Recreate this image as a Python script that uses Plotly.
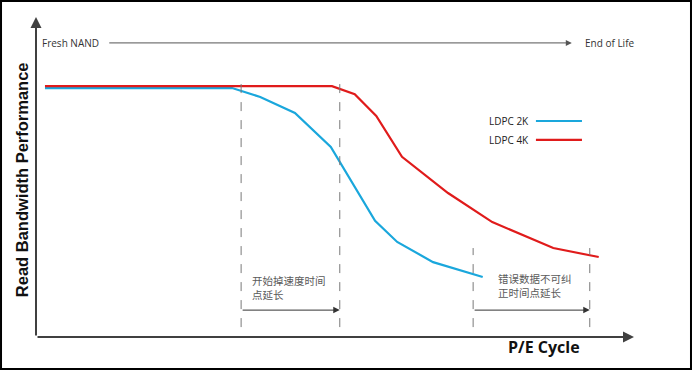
import plotly.graph_objects as go

# P/E cycle (arbitrary units 0-100) and read bandwidth performance (arbitrary 0-100)
ldpc2k_x = [1.5, 32.8, 37.5, 43.3, 49.3, 56.7, 60.4, 66.4, 74.7]
ldpc2k_y = [77.8, 77.8, 75.0, 70.0, 59.4, 36.3, 29.7, 23.4, 18.75]
ldpc4k_x = [1.5, 49.5, 53.3, 56.9, 61.2, 68.9, 76.3, 86.5, 94.1]
ldpc4k_y = [78.4, 78.4, 75.9, 69.1, 56.3, 45.0, 35.9, 27.8, 25.0]

series_names = ["LDPC 2K", "LDPC 4K"]
series_colors = ["#1aa7dc", "#e01b1b"]

# marker positions (P/E cycle) for the dashed guides
guide1 = [34.3, 50.8]
guide2 = [73.1, 92.6]
guide1_top, guide2_top, guide_bottom = 80.9, 27.8, 3.1
span_y = 8.4

label1 = "开始掉速度时间<br>点延长"
label2 = "错误数据不可纠<br>正时间点延长"

fig = go.Figure()
fig.add_trace(go.Scatter(x=ldpc2k_x, y=ldpc2k_y, mode="lines", name=series_names[0],
                         line=dict(color=series_colors[0], width=2.2)))
fig.add_trace(go.Scatter(x=ldpc4k_x, y=ldpc4k_y, mode="lines", name=series_names[1],
                         line=dict(color=series_colors[1], width=2.2)))

shapes = []
for gx in guide1:
    shapes.append(dict(type="line", xref="x", yref="y", x0=gx, x1=gx, y0=guide_bottom, y1=guide1_top,
                       line=dict(color="#7a7a7a", width=1, dash="dash")))
for gx in guide2:
    shapes.append(dict(type="line", xref="x", yref="y", x0=gx, x1=gx, y0=guide_bottom, y1=guide2_top,
                       line=dict(color="#7a7a7a", width=1, dash="dash")))
# legend keys
for i, ly in enumerate([67.5, 61.6]):
    shapes.append(dict(type="line", xref="x", yref="y", x0=83.6, x1=91.3, y0=ly, y1=ly,
                       line=dict(color=series_colors[i], width=2.2)))
# outer frame
shapes.append(dict(type="rect", xref="paper", yref="paper", x0=-0.0585, x1=1.0953, y0=-0.1, y1=1.05,
                   line=dict(color="black", width=2)))

ann = []
def arrow(x0, y0, x1, y1, color, width, head=2, size=1):
    ann.append(dict(x=x1, y=y1, ax=x0, ay=y0, xref="x", yref="y", axref="x", ayref="y",
                    showarrow=True, arrowhead=head, arrowsize=size, arrowwidth=width,
                    arrowcolor=color, text=""))

# axes with arrows
arrow(0, 0, 0, 100, "#404040", 2, head=2, size=1.1)
arrow(0, 0, 100, 0, "#404040", 2, head=2, size=1.1)
# Fresh NAND -> End of Life
arrow(12.0, 91.9, 89.6, 91.9, "#555555", 1, head=2, size=1.2)
# span arrows
arrow(guide1[0], span_y, guide1[1], span_y, "#333333", 1, head=2, size=1.3)
arrow(guide2[0], span_y, guide2[1], span_y, "#333333", 1, head=2, size=1.3)

txtfont = dict(family="Open Sans, Noto Sans, sans-serif", size=10, color="#333333")
ann.append(dict(x=0.7, y=91.9, xref="x", yref="y", text="Fresh NAND", showarrow=False,
                xanchor="left", yanchor="middle", font=txtfont))
ann.append(dict(x=91.4, y=91.9, xref="x", yref="y", text="End of Life", showarrow=False,
                xanchor="left", yanchor="middle", font=txtfont))
legfont = dict(family="Open Sans, Noto Sans, sans-serif", size=10, color="#222222")
for i, ly in enumerate([67.5, 61.6]):
    ann.append(dict(x=82.7, y=ly, xref="x", yref="y", text=series_names[i], showarrow=False,
                    xanchor="right", yanchor="middle", font=legfont))
cjk = dict(family="Noto Sans CJK SC", size=10.5, color="#5a5a5a")
ann.append(dict(x=35.8, y=20.5, xref="x", yref="y", text=label1, showarrow=False, align="left",
                xanchor="left", yanchor="top", font=cjk))
ann.append(dict(x=76.9, y=21.2, xref="x", yref="y", text=label2, showarrow=False, align="left",
                xanchor="left", yanchor="top", font=cjk))
ann.append(dict(x=-0.0234, y=0.49, xref="paper", yref="paper", text="<b>Read Bandwidth Performance</b>",
                showarrow=False, textangle=-90, xanchor="center", yanchor="middle",
                font=dict(family="Liberation Sans, Arial, sans-serif", size=16.5, color="#111111")))
ann.append(dict(x=0.849, y=-0.032, xref="paper", yref="paper", text="<b>P/E Cycle</b>", showarrow=False,
                xanchor="center", yanchor="middle",
                font=dict(family="Open Sans, sans-serif", size=16, color="#111111")))

fig.update_layout(
    width=693, height=371,
    margin=dict(l=36, r=59, t=17, b=34),
    paper_bgcolor="white", plot_bgcolor="white",
    showlegend=False,
    xaxis=dict(range=[0, 100], visible=False, fixedrange=True),
    yaxis=dict(range=[0, 100], visible=False, fixedrange=True),
    shapes=shapes, annotations=ann,
)
fig.write_html("out.html", config={"displayModeBar": False},
               post_script="document.body.style.margin='0';document.body.style.padding='0';")
